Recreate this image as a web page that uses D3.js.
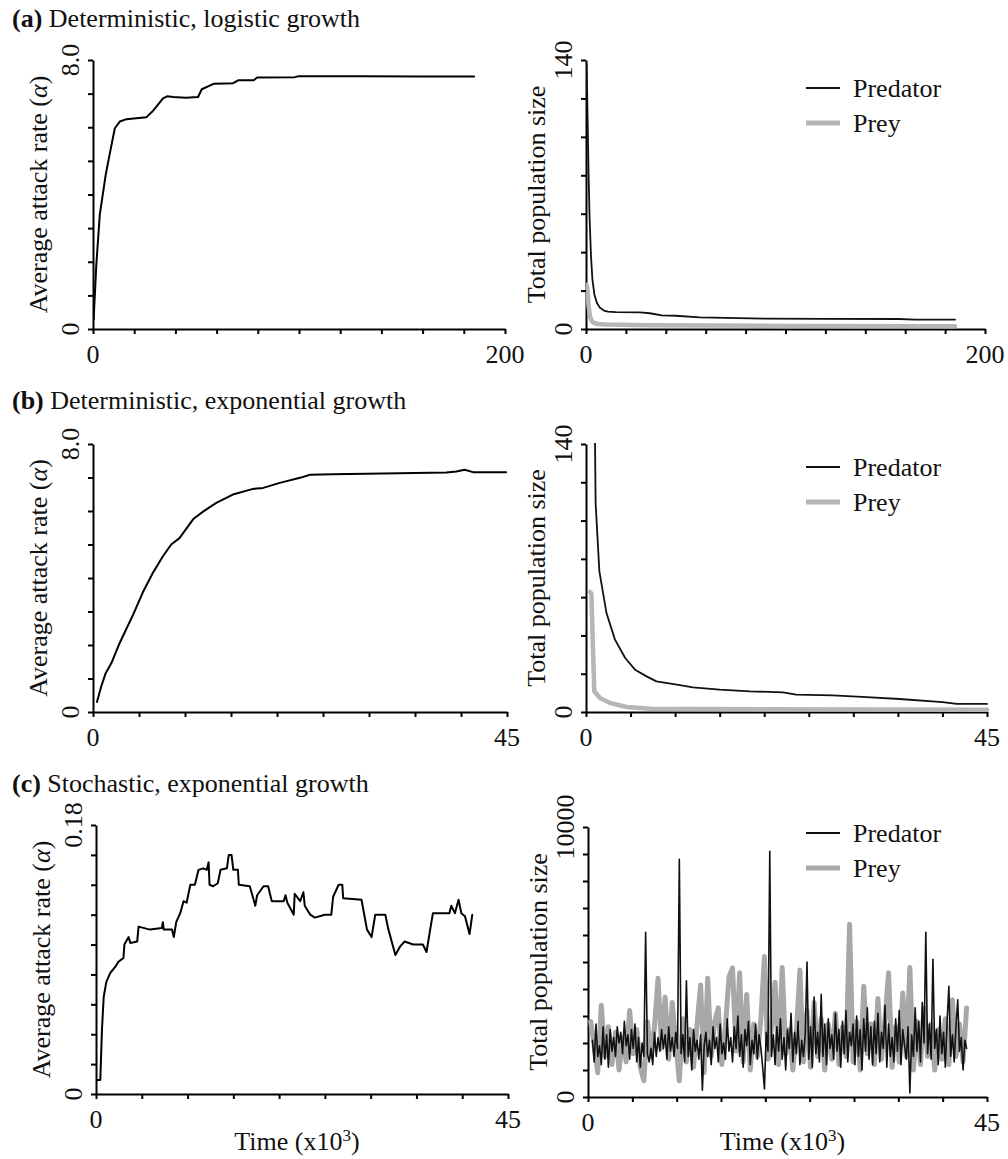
<!DOCTYPE html>
<html>
<head>
<meta charset="utf-8">
<script src="https://cdn.jsdelivr.net/npm/d3@7"></script>
<style>
  body { margin: 0; background: #fff; }
  .axis path, .axis line { stroke: #000; stroke-width: 2; }
</style>
</head>
<body>
<svg id="fig" width="1008" height="1159"></svg>
<script>
// ---- data ----
var titles = ["Deterministic, logistic growth", "Deterministic, exponential growth", "Stochastic, exponential growth"];
var letters = ["(a)", "(b)", "(c)"];
var legendNames = ["Predator", "Prey"];

// (a) logistic: attack rate [time, alpha]
var attackA = [[0.3,0.28],[1.6,1.9],[3.3,3.4],[6.2,4.6],[8.1,5.2],[10.6,5.97],[13,6.17],[16.3,6.24],[21,6.27],[26,6.3],
  [29.3,6.5],[34,6.86],[36,6.92],[39,6.9],[45,6.88],[51,6.9],[52.8,7.13],[58.5,7.29],[64,7.3],[68,7.31],[70.7,7.4],
  [78,7.4],[79.7,7.48],[98,7.49],[100,7.52],[130,7.52],[160,7.51],[185,7.51]];
var predA = [[0.3,138],[0.8,110],[1.3,80],[1.8,58],[2.5,38],[3.2,26],[4.2,18],[5.5,13.5],[7,11],[9,9.6],[11,9.0],
  [15,8.8],[27,8.7],[32,8.2],[38,7.1],[45,6.9],[57,6.1],[70,5.8],[90,5.4],[120,5.3],[157,5.2],[165,4.9],[185,4.9]];
var preyA = [[0.3,23],[0.8,20],[1.3,12],[2,6.5],[3,4],[4,3.1],[6,2.6],[10,2.3],[30,2.0],[100,1.6],[185,1.4]];

// (b) exponential, deterministic
var attackB = [[0.43,0.3],[0.9,0.77],[1.38,1.16],[2,1.46],[2.9,2.06],[4.35,2.9],[5.43,3.58],[6.5,4.15],[7.6,4.65],
  [8.5,5.0],[9.4,5.19],[10.9,5.76],[12,5.99],[13.4,6.24],[15.2,6.49],[17.4,6.66],[18.5,6.69],[20.3,6.84],[22.5,6.99],
  [23.6,7.08],[26.1,7.1],[29.7,7.11],[33.3,7.13],[38.4,7.15],[39.5,7.18],[40.4,7.23],[41.3,7.16],[44.9,7.16]];
var predB = [[0.95,170],[1.08,109],[1.5,73.5],[2.3,51.7],[3.25,37.8],[4.4,28.2],[5.5,22.1],[6.8,18.6],[7.9,16],
  [10.2,14.3],[12,12.9],[15,11.7],[18.4,10.8],[22.1,10.3],[23.6,9.05],[27.7,8.7],[31.5,7.8],[35.2,6.8],[40,5.2],
  [41.6,4.2],[45,4.2]];
var preyB = [[0.45,62.7],[0.6,62],[0.93,10.8],[1.57,7.3],[2.7,4.7],[4.56,2.6],[7.2,1.7],[20,1.4],[45,1.2]];

// (c) stochastic
var attackC = [[0.1,0.0094],[0.47,0.0094],[0.65,0.043],[0.84,0.065],[1.13,0.075],[1.56,0.081],[2.1,0.085],[2.47,0.0886],
  [3,0.091],[3.1,0.1],[3.56,0.105],[3.75,0.101],[4.5,0.102],[4.65,0.112],[5.9,0.11],[7.2,0.111],[7.3,0.115],[7.4,0.11],
  [8.3,0.11],[8.5,0.105],[8.76,0.115],[9.2,0.121],[9.56,0.129],[9.9,0.128],[10.3,0.14],[10.8,0.14],[11.2,0.15],
  [11.7,0.151],[12.1,0.15],[12.3,0.155],[12.4,0.14],[12.8,0.139],[13.3,0.141],[13.6,0.15],[14.3,0.151],[14.5,0.16],
  [14.8,0.16],[15.0,0.15],[15.5,0.15],[15.6,0.14],[16.8,0.139],[17.4,0.126],[17.6,0.133],[18.3,0.139],[18.8,0.139],
  [19.2,0.129],[20.5,0.129],[20.7,0.133],[20.9,0.128],[21.6,0.12],[21.7,0.134],[22.3,0.129],[22.65,0.135],[22.8,0.126],
  [23.4,0.12],[23.9,0.118],[25,0.12],[25.7,0.12],[25.9,0.132],[26.5,0.14],[26.9,0.14],[27,0.131],[29,0.13],[29.6,0.11],
  [30.1,0.105],[30.5,0.12],[31.6,0.12],[31.9,0.111],[32.7,0.093],[33.2,0.0986],[33.7,0.102],[34.65,0.1],[35.7,0.1],
  [36.1,0.095],[36.5,0.11],[36.8,0.121],[38.6,0.121],[38.8,0.126],[39.2,0.121],[39.6,0.13],[39.9,0.121],[40.3,0.119],
  [40.8,0.107],[41.1,0.12]];
// population sampled every 0.2 (predator) and 0.4 (prey) time units
var predCStart = 0.5, predCStep = 0.2;
var predC = [2100,1300,2700,1500,1900,1200,2600,1400,2300,1100,
  2500,1700,2200,1500,2600,2000,2400,1600,2800,1900,
  2300,1400,2500,1800,2700,1300,2200,1100,2000,1500,
  6100,1600,1300,1800,1200,2400,1500,2200,1700,2500,
  1800,2300,1400,2600,1700,2200,1500,2400,1800,8800,
  1600,2300,1300,4300,1500,2200,1000,2500,1700,2100,
  1400,2300,250,1900,2400,1500,2100,1200,2600,1800,
  2200,1300,2700,1600,2000,1400,2900,1700,2200,1300,
  2600,1800,3000,1500,2300,1100,2500,1900,2800,1200,
  2100,1600,2700,1400,2300,1800,1100,300,2400,1700,
  9100,1500,2300,1200,2600,1700,2900,1400,2200,1000,
  2500,1800,3100,1300,2400,1600,2800,1200,2100,1500,
  2300,5000,1400,2600,1100,3700,1600,2400,1300,3800,
  1500,2700,1200,2900,1800,2300,1400,3100,1700,2500,
  1100,2800,1600,3200,1300,2400,1900,2700,1200,3000,
  1500,2500,1000,2900,1700,3300,1400,2600,1200,2800,
  1600,3100,1300,2400,1800,3400,1100,2700,1500,2200,
  1300,2900,1700,3200,1200,2500,1900,1400,2600,150,
  2300,1500,3300,1700,2800,1300,3500,2000,6100,1600,
  2700,1400,5100,1800,2500,1200,3000,1600,2400,1100,
  2800,4100,1500,2300,1300,2600,3600,1700,2200,1000,
  2100,1800];
var preyCStart = 0.3, preyCStep = 0.4;
var preyC = [2800,1900,900,3400,1500,2600,1200,2400,1000,2200,
  1300,3200,1600,2500,1100,600,2800,1500,2600,4400,
  1800,3700,1400,3500,2000,600,2900,1300,2500,1100,
  2700,4150,900,4400,1500,2800,3300,1200,2600,4450,
  4780,1700,4600,1300,3800,1000,2700,1500,2900,5200,
  1400,2600,4250,1200,4800,1600,2500,1000,2400,4700,
  1300,3200,1100,3500,1500,2900,1000,2700,1400,3100,
  1200,2600,1500,6400,1300,2800,1000,4100,1600,2700,
  1200,3650,1400,2900,4600,1100,2600,1300,3850,1500,
  4800,1000,2800,1200,3300,1500,2700,1000,2500,1400,
  2900,1200,3600,1500,2700,1300,3300];

var xMax = [200, 45, 45];
var alphaMax = [8, 8, 0.18], alphaStep = [1, 1, 0.02], alphaLabels = ["8.0", "8.0", "0.18"];
var popMax = [140, 140, 10000], popStep = [20, 20, 1000], popLabels = ["140", "140", "10000"];

var predCPts = predC.map(function (v, i) { return [predCStart + i * predCStep, v]; });
var preyCPts = preyC.map(function (v, i) { return [preyCStart + i * preyCStep, v]; });

var attack = [attackA, attackB, attackC];
var pred = [predA, predB, predCPts];
var prey = [preyA, preyB, preyCPts];

// layout per row: left/right axis boxes
var rows = [
  { title: 27, L: [93, 505, 60, 329], R: [586, 985, 60, 329], leg: 88 },
  { title: 409, L: [93, 507, 444, 712], R: [586, 987, 444, 712], leg: 467 },
  { title: 792, L: [96, 508, 825, 1094], R: [588, 987, 827, 1097], leg: 833 }
];
var preyGray = ["#b6b6b6", "#b6b6b6", "#a8a8aa"];
var FONT = '"Liberation Serif", "Times New Roman", Tinos, serif';

var svg = d3.select('#fig');

function txt(parent) {
    return parent.append('text').style('font-family', FONT).attr('font-size', 26).attr('fill', '#111');
}

function yLabel(g, box, text, offset, italicSym) {
    var t = txt(g)
        .attr('transform', 'translate(' + (box[0] - offset) + ',' + ((box[2] + box[3]) / 2) + ') rotate(-90)')
        .attr('text-anchor', 'middle');
    t.append('tspan').text(text);
    if (italicSym) {
        t.append('tspan').text('(');
        t.append('tspan').attr('font-style', 'italic').text(italicSym);
        t.append('tspan').text(')');
    }
}

function drawPanel(box, xmax, ymax, ystep, ylab, series, idx) {
    var x = d3.scaleLinear().domain([0, xmax]).range([box[0], box[1]]);
    var y = d3.scaleLinear().domain([0, ymax]).range([box[3], box[2]]);
    var g = svg.append('g');

    var clipId = 'clip' + idx;
    svg.append('clipPath').attr('id', clipId).append('rect')
        .attr('x', box[0]).attr('y', box[2] - 1)
        .attr('width', box[1] - box[0] + 2).attr('height', box[3] - box[2] + 1);

    g.append('g').attr('class', 'axis')
        .attr('transform', 'translate(0,' + box[3] + ')')
        .call(d3.axisBottom(x).tickValues(d3.range(0, xmax + 0.001, xmax === 200 ? 20 : 5))
            .tickSize(5).tickSizeOuter(0).tickFormat(''));
    g.append('g').attr('class', 'axis')
        .attr('transform', 'translate(' + box[0] + ',0)')
        .call(d3.axisLeft(y).tickValues(d3.range(0, ymax + ystep / 2, ystep))
            .tickSize(5).tickSizeOuter(0).tickFormat(''));

    // end tick labels
    [[0, '0'], [xmax, String(xmax)]].forEach(function (d) {
        txt(g).attr('x', x(d[0])).attr('y', box[3] + 34)
            .attr('text-anchor', 'middle').text(d[1]);
    });
    [[0, '0'], [ymax, ylab]].forEach(function (d) {
        txt(g)
            .attr('transform', 'translate(' + (box[0] - 14) + ',' + y(d[0]) + ') rotate(-90)')
            .attr('text-anchor', 'middle').text(d[1]);
    });

    var line = d3.line().x(function (d) { return x(d[0]); }).y(function (d) { return y(d[1]); });
    var lines = g.append('g').attr('clip-path', 'url(#' + clipId + ')');
    series.forEach(function (s) {
        lines.append('path').datum(s.data)
            .attr('fill', 'none')
            .attr('stroke', s.color)
            .attr('stroke-width', s.width)
            .attr('stroke-linejoin', 'round')
            .attr('stroke-linecap', 'round')
            .attr('d', line);
    });
    return g;
}

rows.forEach(function (r, i) {
    var t = txt(svg).attr('x', 12).attr('y', r.title);
    t.append('tspan').attr('font-weight', 'bold').text(letters[i]);
    t.append('tspan').text(' ' + titles[i]);

    drawPanel(r.L, xMax[i], alphaMax[i], alphaStep[i], alphaLabels[i],
        [{ data: attack[i], color: '#000', width: 2 }], 'L' + i);
    yLabel(svg, r.L, 'Average attack rate ', 46, '\u03b1');

    drawPanel(r.R, xMax[i], popMax[i], popStep[i], popLabels[i],
        [{ data: prey[i], color: preyGray[i], width: i === 2 ? 5 : 4.5 },
         { data: pred[i], color: '#111', width: i === 2 ? 1.6 : 1.8 }], 'R' + i);
    yLabel(svg, r.R, 'Total population size', 41);

    // legend
    [[legendNames[0], '#111', 2, 0], [legendNames[1], preyGray[i], 5, 35]].forEach(function (d) {
        svg.append('line').attr('x1', 806).attr('x2', 840)
            .attr('y1', r.leg + d[3]).attr('y2', r.leg + d[3])
            .attr('stroke', d[1]).attr('stroke-width', d[2]);
        txt(svg).attr('x', 853).attr('y', r.leg + d[3] + 9).text(d[0]);
    });
});

// time axis titles for the bottom row
[rows[2].L, rows[2].R].forEach(function (box) {
    var t = txt(svg).attr('x', (box[0] + box[1]) / 2 - 5).attr('y', 1150)
        .attr('text-anchor', 'middle');
    t.append('tspan').text('Time (x10');
    t.append('tspan').attr('dy', -9).attr('font-size', 17).text('3');
    t.append('tspan').attr('dy', 9).text(')');
});
</script>
</body>
</html>
